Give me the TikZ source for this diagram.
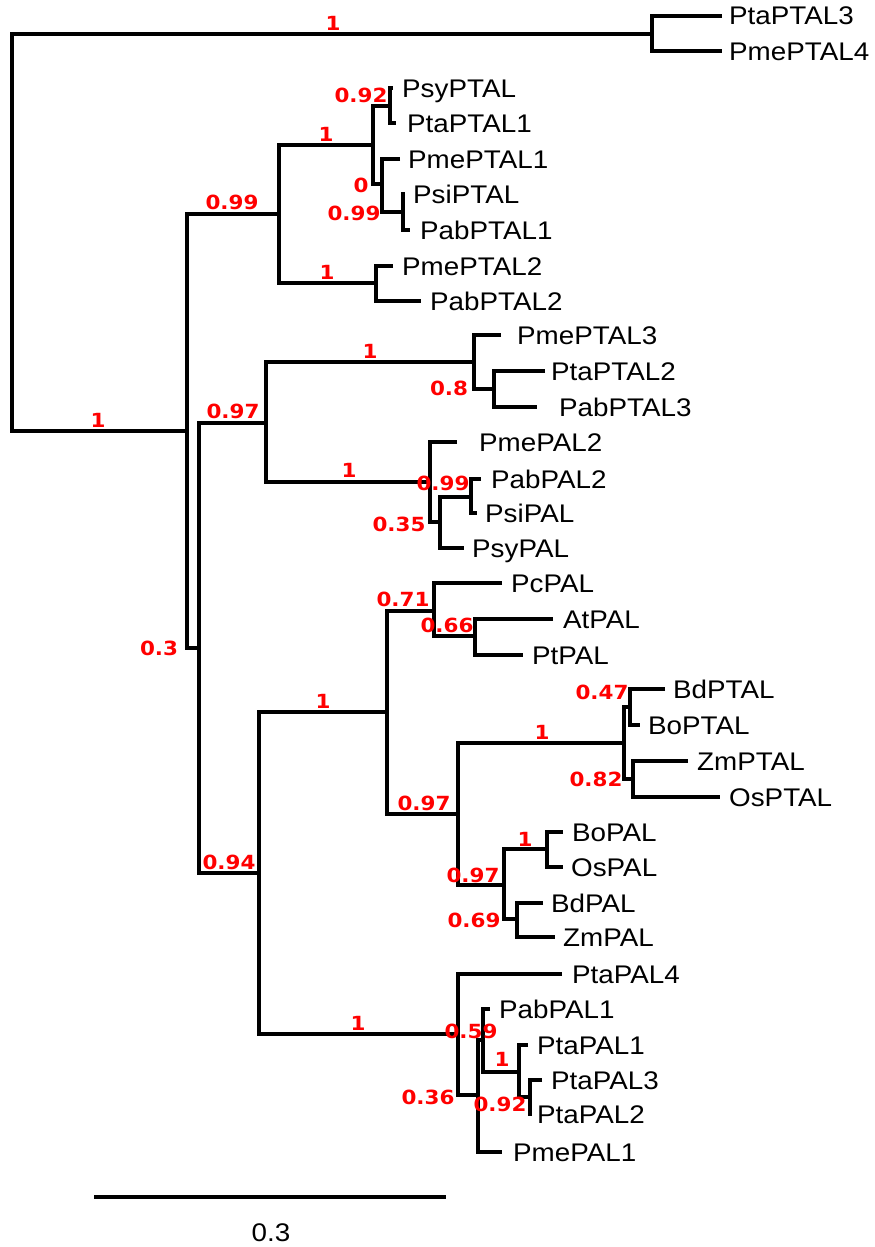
\documentclass[tikz,border=0pt]{standalone}
\usepackage{fontspec}
\setmainfont{Liberation Sans}[FakeStretch=1.09]
\newfontfamily\supfont{DejaVu Sans}[FakeStretch=1.1]
\begin{document}
\begin{tikzpicture}[x=1pt,y=-1pt,
  br/.style={line width=3.6pt, line join=miter, line cap=butt},
  leaf/.style={anchor=base west, inner sep=0pt, font=\fontsize{25.5}{30}\selectfont},
  sup/.style={anchor=center, inner sep=0pt, text=red, font=\supfont\bfseries\fontsize{19.5}{22}\selectfont}]
\useasboundingbox (0,0) rectangle (875,1247);
% internal nodes
\coordinate (nR) at (12,233);
\coordinate (nA) at (652,34);
\coordinate (nB) at (187,431);
\coordinate (nC) at (279,214);
\coordinate (nE) at (373,145);
\coordinate (nG) at (390,106);
\coordinate (nH) at (382,184);
\coordinate (nI) at (403,212);
\coordinate (nF) at (376,283);
\coordinate (nD) at (199,648);
\coordinate (nJ) at (266,423);
\coordinate (nL) at (474,362);
\coordinate (nN) at (494,389);
\coordinate (nM) at (430,482);
\coordinate (nO) at (440,522);
\coordinate (nP) at (471,497);
\coordinate (nK) at (259,873);
\coordinate (nQ) at (387,712);
\coordinate (nT) at (434,611);
\coordinate (nV) at (475,636);
\coordinate (nU) at (458,814);
\coordinate (nW) at (624,743);
\coordinate (nY) at (630,707);
\coordinate (nZ) at (633,779);
\coordinate (nX) at (504,885);
\coordinate (nAA) at (547,849);
\coordinate (nAB) at (517,919);
\coordinate (nS) at (458,1034);
\coordinate (nAC) at (478,1095);
\coordinate (nAD) at (483,1040);
\coordinate (nAE) at (519,1072);
\coordinate (nAF) at (530,1097);
% leaf tips
\coordinate (tPtaPTAL3) at (722,16);
\coordinate (tPmePTAL4) at (722,51);
\coordinate (tPsyPTAL) at (393,88);
\coordinate (tPtaPTAL1) at (396,123);
\coordinate (tPmePTAL1) at (400,159);
\coordinate (tPsiPTAL) at (405,194);
\coordinate (tPabPTAL1) at (410,230);
\coordinate (tPmePTAL2) at (393,266);
\coordinate (tPabPTAL2) at (421,301);
\coordinate (tPmePTAL3) at (501,335);
\coordinate (tPtaPTAL2) at (545,371);
\coordinate (tPabPTAL3) at (537,407);
\coordinate (tPmePAL2) at (457,442);
\coordinate (tPabPAL2) at (481,479);
\coordinate (tPsiPAL) at (477,513);
\coordinate (tPsyPAL) at (464,548);
\coordinate (tPcPAL) at (502,583);
\coordinate (tAtPAL) at (553,619);
\coordinate (tPtPAL) at (523,655);
\coordinate (tBdPTAL) at (665,689);
\coordinate (tBoPTAL) at (640,725);
\coordinate (tZmPTAL) at (688,761);
\coordinate (tOsPTAL) at (720,797);
\coordinate (tBoPAL) at (563,832);
\coordinate (tOsPAL) at (563,867);
\coordinate (tBdPAL) at (543,903);
\coordinate (tZmPAL) at (555,937);
\coordinate (tPtaPAL4) at (562,974);
\coordinate (tPabPAL1) at (490,1009);
\coordinate (tPtaPAL1) at (528,1045);
\coordinate (tPtaPAL3) at (542,1080);
\coordinate (tPtaPAL2) at (532,1114);
\coordinate (tPmePAL1) at (502,1152);
% branches
\draw[br] (nA) -| (nR) |- (nB);
\draw[br] (tPtaPTAL3) -| (nA) |- (tPmePTAL4);
\draw[br] (nC) -| (nB) |- (nD);
\draw[br] (nE) -| (nC) |- (nF);
\draw[br] (nG) -| (nE) |- (nH);
\draw[br] (tPsyPTAL) -| (nG) |- (tPtaPTAL1);
\draw[br] (tPmePTAL1) -| (nH) |- (nI);
\draw[br] (tPsiPTAL) -| (nI) |- (tPabPTAL1);
\draw[br] (tPmePTAL2) -| (nF) |- (tPabPTAL2);
\draw[br] (nJ) -| (nD) |- (nK);
\draw[br] (nL) -| (nJ) |- (nM);
\draw[br] (tPmePTAL3) -| (nL) |- (nN);
\draw[br] (tPtaPTAL2) -| (nN) |- (tPabPTAL3);
\draw[br] (tPmePAL2) -| (nM) |- (nO);
\draw[br] (nP) -| (nO) |- (tPsyPAL);
\draw[br] (tPabPAL2) -| (nP) |- (tPsiPAL);
\draw[br] (nQ) -| (nK) |- (nS);
\draw[br] (nT) -| (nQ) |- (nU);
\draw[br] (tPcPAL) -| (nT) |- (nV);
\draw[br] (tAtPAL) -| (nV) |- (tPtPAL);
\draw[br] (nW) -| (nU) |- (nX);
\draw[br] (nY) -| (nW) |- (nZ);
\draw[br] (tBdPTAL) -| (nY) |- (tBoPTAL);
\draw[br] (tZmPTAL) -| (nZ) |- (tOsPTAL);
\draw[br] (nAA) -| (nX) |- (nAB);
\draw[br] (tBoPAL) -| (nAA) |- (tOsPAL);
\draw[br] (tBdPAL) -| (nAB) |- (tZmPAL);
\draw[br] (tPtaPAL4) -| (nS) |- (nAC);
\draw[br] (nAD) -| (nAC) |- (tPmePAL1);
\draw[br] (tPabPAL1) -| (nAD) |- (nAE);
\draw[br] (tPtaPAL1) -| (nAE) |- (nAF);
\draw[br] (tPtaPAL3) -| (nAF) |- (tPtaPAL2);
% leaf labels
\node[leaf] (lPtaPTAL3) at (729,25) {PtaPTAL3};
\node[leaf] (lPmePTAL4) at (729,60) {PmePTAL4};
\node[leaf] (lPsyPTAL) at (402,97) {PsyPTAL};
\node[leaf] (lPtaPTAL1) at (407,132) {PtaPTAL1};
\node[leaf] (lPmePTAL1) at (408,168) {PmePTAL1};
\node[leaf] (lPsiPTAL) at (413,203) {PsiPTAL};
\node[leaf] (lPabPTAL1) at (420,239) {PabPTAL1};
\node[leaf] (lPmePTAL2) at (402,275) {PmePTAL2};
\node[leaf] (lPabPTAL2) at (430,310) {PabPTAL2};
\node[leaf] (lPmePTAL3) at (517,344) {PmePTAL3};
\node[leaf] (lPtaPTAL2) at (551,380) {PtaPTAL2};
\node[leaf] (lPabPTAL3) at (559,416) {PabPTAL3};
\node[leaf] (lPmePAL2) at (479,451) {PmePAL2};
\node[leaf] (lPabPAL2) at (491,488) {PabPAL2};
\node[leaf] (lPsiPAL) at (485,522) {PsiPAL};
\node[leaf] (lPsyPAL) at (472,557) {PsyPAL};
\node[leaf] (lPcPAL) at (511,592) {PcPAL};
\node[leaf] (lAtPAL) at (563,628) {AtPAL};
\node[leaf] (lPtPAL) at (532,664) {PtPAL};
\node[leaf] (lBdPTAL) at (673,698) {BdPTAL};
\node[leaf] (lBoPTAL) at (648,734) {BoPTAL};
\node[leaf] (lZmPTAL) at (697,770) {ZmPTAL};
\node[leaf] (lOsPTAL) at (729,806) {OsPTAL};
\node[leaf] (lBoPAL) at (572,841) {BoPAL};
\node[leaf] (lOsPAL) at (571,876) {OsPAL};
\node[leaf] (lBdPAL) at (551,912) {BdPAL};
\node[leaf] (lZmPAL) at (563,946) {ZmPAL};
\node[leaf] (lPtaPAL4) at (572,983) {PtaPAL4};
\node[leaf] (lPabPAL1) at (499,1018) {PabPAL1};
\node[leaf] (lPtaPAL1) at (537,1054) {PtaPAL1};
\node[leaf] (lPtaPAL3) at (551,1089) {PtaPAL3};
\node[leaf] (lPtaPAL2) at (537,1123) {PtaPAL2};
\node[leaf] (lPmePAL1) at (513,1161) {PmePAL1};
% support values
\node[sup] (s1) at (333,23) {1};
\node[sup] (s2) at (98,420) {1};
\node[sup] (s3) at (232,202) {0.99};
\node[sup] (s4) at (361,95) {0.92};
\node[sup] (s5) at (326,134) {1};
\node[sup] (s6) at (361,185) {0};
\node[sup] (s7) at (354,213) {0.99};
\node[sup] (s8) at (327,272) {1};
\node[sup] (s9) at (233,411) {0.97};
\node[sup] (s10) at (370,351) {1};
\node[sup] (s11) at (449,388) {0.8};
\node[sup] (s12) at (349,470) {1};
\node[sup] (s13) at (443,483) {0.99};
\node[sup] (s14) at (399,524) {0.35};
\node[sup] (s15) at (159,648) {0.3};
\node[sup] (s16) at (229,862) {0.94};
\node[sup] (s17) at (323,701) {1};
\node[sup] (s18) at (403,599) {0.71};
\node[sup] (s19) at (447,625) {0.66};
\node[sup] (s20) at (424,803) {0.97};
\node[sup] (s21) at (542,732) {1};
\node[sup] (s22) at (602,692) {0.47};
\node[sup] (s23) at (596,779) {0.82};
\node[sup] (s24) at (473,875) {0.97};
\node[sup] (s25) at (525,839) {1};
\node[sup] (s26) at (474,920) {0.69};
\node[sup] (s27) at (358,1023) {1};
\node[sup] (s28) at (471,1031) {0.59};
\node[sup] (s29) at (502,1059) {1};
\node[sup] (s30) at (428,1097) {0.36};
\node[sup] (s31) at (500,1104) {0.92};
% scale bar
\coordinate (sbL) at (94,1197);
\coordinate (sbR) at (446,1197);
\draw[br] (sbL) -- (sbR);
\node[inner sep=0pt, font=\fontsize{25.5}{30}\selectfont] (sbT) at (271,1233) {0.3};
\end{tikzpicture}
\end{document}
